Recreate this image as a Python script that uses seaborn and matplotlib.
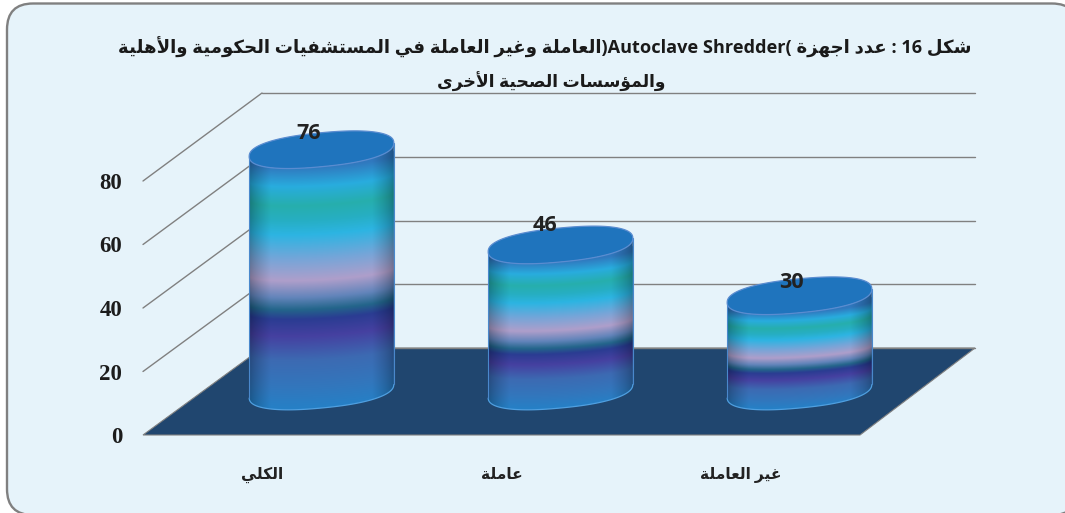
import re
import numpy as np
import pandas as pd
import matplotlib
matplotlib.use("Agg")
import matplotlib.pyplot as plt
from matplotlib.patches import FancyBboxPatch, PathPatch, Polygon
from matplotlib.path import Path
from matplotlib.colors import to_rgb
from matplotlib.transforms import ScaledTranslation
import seaborn as sns

# ---- data ----
categories = ["الكلي", "عاملة", "غير العاملة"]
values = [76, 46, 30]
y_ticks = [0, 20, 40, 60, 80]
title_line1 = "شكل 16 : عدد اجهزة (Autoclave Shredder)العاملة وغير العاملة في المستشفيات الحكومية والأهلية"
title_line2 = "والمؤسسات الصحية الأخرى"

# ---- minimal Arabic shaping (matplotlib does no shaping or bidi) ----
_forms = {}
for ch, start, n in [("ء",0xFE80,1),("آ",0xFE81,2),("أ",0xFE83,2),("ؤ",0xFE85,2),("إ",0xFE87,2),
                     ("ئ",0xFE89,4),("ا",0xFE8D,2),("ب",0xFE8F,4),("ة",0xFE93,2),("ت",0xFE95,4),
                     ("ث",0xFE99,4),("ج",0xFE9D,4),("ح",0xFEA1,4),("خ",0xFEA5,4),("د",0xFEA9,2),
                     ("ذ",0xFEAB,2),("ر",0xFEAD,2),("ز",0xFEAF,2),("س",0xFEB1,4),("ش",0xFEB5,4),
                     ("ص",0xFEB9,4),("ض",0xFEBD,4),("ط",0xFEC1,4),("ظ",0xFEC5,4),("ع",0xFEC9,4),
                     ("غ",0xFECD,4),("ف",0xFED1,4),("ق",0xFED5,4),("ك",0xFED9,4),("ل",0xFEDD,4),
                     ("م",0xFEE1,4),("ن",0xFEE5,4),("ه",0xFEE9,4),("و",0xFEED,2),("ى",0xFEEF,2),
                     ("ي",0xFEF1,4)]:
    _forms[ch] = (start, n)
_lam_alef = {"ا": 0xFEFB, "أ": 0xFEF7, "إ": 0xFEF9, "آ": 0xFEF5}


def shape(word):
    out, i, prev_joins = [], 0, False
    while i < len(word):
        c = word[i]
        if c not in _forms:
            out.append(c); prev_joins = False; i += 1; continue
        if c == "ل" and i + 1 < len(word) and word[i + 1] in _lam_alef:
            out.append(chr(_lam_alef[word[i + 1]] + (1 if prev_joins else 0)))
            prev_joins = False; i += 2; continue
        start, n = _forms[c]
        nxt = i + 1 < len(word) and word[i + 1] in _forms and word[i + 1] != "ء"
        if n == 1:
            out.append(chr(start)); prev_joins = False
        elif n == 2:
            out.append(chr(start + (1 if prev_joins else 0))); prev_joins = False
        else:
            if prev_joins and nxt:
                k = 3
            elif prev_joins:
                k = 1
            elif nxt:
                k = 2
            else:
                k = 0
            out.append(chr(start + k)); prev_joins = nxt
        i += 1
    return "".join(out)


def visual(text):
    parts = re.split(r"([A-Za-z0-9][A-Za-z0-9 ]*[A-Za-z0-9]|[0-9])", text)
    res = []
    for p in parts:
        if p and re.fullmatch(r"[A-Za-z0-9 ]+", p) and p.strip():
            res.append(p)
        else:
            res.append(shape(p)[::-1])
    return "".join(reversed(res))


# ---- figure and pixel helpers ----
W, H = 1065, 513
sns.set_theme(style="white")
FONT = ["Open Sans", "DejaVu Sans"]
fig = plt.figure(figsize=(W / 100, H / 100), dpi=100, facecolor="white")


def px_axes(x0, y_top, x1, y_bot, zorder):
    ax = fig.add_axes([x0 / W, 1 - y_bot / H, (x1 - x0) / W, (y_bot - y_top) / H], zorder=zorder)
    ax.patch.set_alpha(0)
    return ax


ax_bg = px_axes(0, 0, W, H, 0)
ax_bg.set_xlim(0, W); ax_bg.set_ylim(H, 0); ax_bg.axis("off")

ax_bg.add_patch(FancyBboxPatch((7, 3.5), 1071, 511.5, boxstyle="round,pad=0,rounding_size=26",
                               fc="#e6f3fa", ec="#808080", lw=1.7, mutation_aspect=1, clip_on=True))

# front plane: tick labels; back plane: gridlines; shifted plane: the cylinders
ax_front = px_axes(143, 181, 860, 435, 1)
ax_back = px_axes(262, 93, 975, 348, 1)
ax_bars = px_axes(202, 137, 919, 391, 3)
for a in (ax_front, ax_back, ax_bars):
    a.set_ylim(0, 80)
    a.set_xlim(-0.5, 2.5)
    sns.despine(ax=a, left=True, bottom=True)

GRID = "#808080"
ax_back.set_yticks(y_ticks)
ax_back.set_xticks([])
ax_back.tick_params(labelleft=False, length=0)
ax_back.grid(axis="y", color=GRID, lw=1.0, clip_on=False)
for gl in ax_back.get_ygridlines():
    gl.set_clip_on(False)
ax_back.set_axisbelow(True)

ax_front.set_xticks(range(len(categories)))
ax_front.set_xticklabels([visual(c) for c in categories], family=FONT, fontweight="bold",
                         fontsize=11.2, color="#222222")
shift = ScaledTranslation(-4.5 / 100, 0, fig.dpi_scale_trans)
for lab in ax_front.get_xticklabels():
    lab.set_transform(lab.get_transform() + shift)
ax_front.set_yticks(y_ticks)
ax_front.set_yticklabels([str(v) for v in y_ticks], family="Liberation Serif", fontweight="bold",
                         fontsize=16.5, color="#1c1c1c")
ax_front.tick_params(axis="y", length=0, pad=15)
ax_front.tick_params(axis="x", length=0, pad=23)
ax_front.grid(False)


def to_bg(ax, x, y):
    return ax_bg.transData.inverted().transform(ax.transData.transform((x, y)))


for v in y_ticks[1:]:
    p0 = to_bg(ax_front, -0.5, v)
    p1 = to_bg(ax_back, -0.5, v)
    ax_bg.plot([p0[0], p1[0]], [p0[1], p1[1]], color=GRID, lw=1.0, zorder=2)

floor = [to_bg(ax_front, -0.5, 0), to_bg(ax_back, -0.5, 0), to_bg(ax_back, 2.5, 0), to_bg(ax_front, 2.5, 0)]
ax_bg.add_patch(Polygon(floor, closed=True, fc="#20466f", ec="#808080", lw=0.8, zorder=3))

# ---- cylinders ----
frame = pd.DataFrame({"category": categories, "value": values})
sns.barplot(data=frame, x="category", y="value", ax=ax_bars, color="#2a78c0", width=0.605,
            saturation=1, order=categories)
ax_bars.set_xlim(-0.5, 2.5); ax_bars.set_ylim(0, 80)
ax_bars.set_xlabel(""); ax_bars.set_ylabel("")
ax_bars.set_xticks([]); ax_bars.set_yticks([])
ax_bars.grid(False)

ax_top = px_axes(0, 0, W, H, 4)
ax_top.set_xlim(0, W); ax_top.set_ylim(H, 0); ax_top.axis("off")

stops = [(0.00, "#2a72b8"), (0.08, "#22a6d8"), (0.16, "#20a8a6"), (0.22, "#20a8bc"), (0.28, "#26aedc"),
         (0.38, "#6f9fd2"), (0.47, "#a898c4"), (0.54, "#5c7eb4"), (0.59, "#1d5f84"), (0.63, "#24368c"),
         (0.70, "#3f3a9a"), (0.80, "#3664ac"), (0.91, "#2c70b6"), (1.00, "#1f7ac0")]
stop_f = [s[0] for s in stops]
stop_c = np.array([to_rgb(s[1]) for s in stops])
TILT, EB, FAT = 0.093, 17.0, 0.86


def rim(cx, cy, a, t):
    c, s = np.cos(t), np.sin(t)
    c = np.sign(c) * np.abs(c) ** FAT
    s = np.sign(s) * np.abs(s) ** FAT
    return cx + a * c, cy + EB * s - TILT * a * c


label_shift = [(-13, -18), (-16, -21), (-8, -15)]
for patch, value, (dx, dy) in zip(ax_bars.patches, values, label_shift):
    (x0, y_bot), (x1, y_top) = [to_bg(ax_bars, *pt) for pt in
                                ((patch.get_x(), 0), (patch.get_x() + patch.get_width(), patch.get_height()))]
    cx, a = (x0 + x1) / 2, (x1 - x0) / 2
    t_front = np.linspace(0, np.pi, 120)
    bx, by = rim(cx, y_bot, a, t_front)
    tx, ty = rim(cx, y_top, a, t_front[::-1])
    verts = np.column_stack([np.r_[bx, tx], np.r_[by, ty]])
    body = Path(np.vstack([verts, verts[0]]), closed=True)
    clip = PathPatch(body, transform=ax_top.transData, fc="none", ec="none")
    ax_top.add_patch(clip)
    patch.set_clip_path(body, ax_top.transData)

    # gradient bands curve gently along the front of the cylinder
    top_px, bot_px = y_top - 20, y_bot + 20
    ny, nx = int(bot_px - top_px) * 2, int(x1 - x0) * 2
    xs = np.linspace(-1, 1, nx)
    ys = np.linspace(top_px, bot_px, ny)
    curve = 0.45 * EB * np.sqrt(np.clip(1 - xs ** 2, 0, 1)) - 0.6 * TILT * a * xs + 0.55 * EB
    frac = (ys[:, None] - (y_top + curve[None, :])) / (y_bot - y_top)
    frac = np.clip(frac, 0, 1)
    rgb = np.stack([np.interp(frac, stop_f, stop_c[:, k]) for k in range(3)], axis=-1)
    edge = np.clip((1 - np.abs(xs)) / 0.3, 0, 1) ** 0.7
    shade = 0.7 + 0.3 * edge
    mixed = rgb * shade[None, :, None] + (0.025 * edge)[None, :, None]
    img = ax_top.imshow(np.clip(mixed, 0, 1), extent=(x0, x1, bot_px, top_px), aspect="auto",
                        interpolation="bilinear", zorder=2)
    img.set_clip_path(clip)
    ax_top.set_xlim(0, W); ax_top.set_ylim(H, 0)

    ax_top.add_patch(PathPatch(Path(np.column_stack(rim(cx, y_bot, a, t_front))), fc="none", ec="#4f9fe0",
                               lw=0.9, zorder=3))
    for sx in (x0, x1):
        sign = -1 if sx == x0 else 1
        ax_top.plot([sx, sx], [y_top - sign * TILT * a, y_bot - sign * TILT * a], color="#4a88cc", lw=0.8, zorder=3)
    t_all = np.linspace(0, 2 * np.pi, 240)
    ex, ey = rim(cx, y_top, a, t_all)
    ax_top.add_patch(Polygon(np.column_stack([ex, ey]), closed=True, fc="#1f74bd", ec="#5a8cd0", lw=0.9, zorder=4))
    ax_top.text(cx + dx, y_top + dy + 2, str(value), family="Open Sans", fontweight="bold", fontsize=15.5,
                color="#222222", ha="center", va="center", zorder=5)

# ---- title ----
ax_top.text(545, 47, visual(title_line1), family=FONT, fontweight="bold", fontsize=13.05,
            color="#1a1a1a", ha="center", va="center", zorder=6)
ax_top.text(551, 82, visual(title_line2), family=FONT, fontweight="bold", fontsize=12.3,
            color="#1a1a1a", ha="center", va="center", zorder=6)

fig.savefig("out.png", dpi=100, facecolor="white")
